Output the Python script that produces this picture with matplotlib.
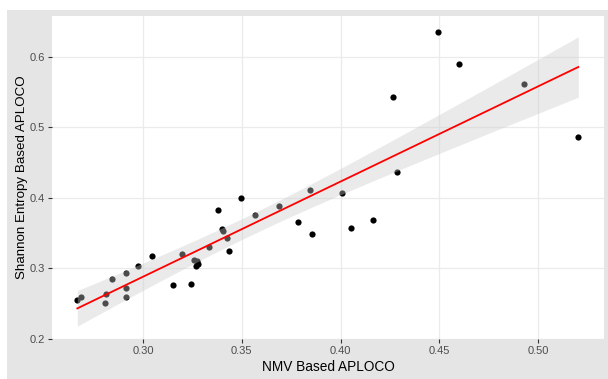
import numpy as np
import matplotlib
matplotlib.use("Agg")
import matplotlib.pyplot as plt
from matplotlib.patches import Rectangle

plt.rcParams["font.family"] = ["Liberation Sans", "DejaVu Sans"]

# values
nmv = [0.2668, 0.2688, 0.2808, 0.2814, 0.2845, 0.2912, 0.2915, 0.2915,
       0.2976, 0.3046, 0.3152, 0.3199, 0.3244, 0.3258, 0.3273, 0.3268,
       0.3280, 0.3334, 0.3380, 0.3398, 0.3406, 0.3424, 0.3434, 0.3496,
       0.3568, 0.3690, 0.3786, 0.3847, 0.3857, 0.4006, 0.4053, 0.4166,
       0.4267, 0.4285, 0.4494, 0.4599, 0.4928, 0.5203]
shannon = [0.2548, 0.2595, 0.2510, 0.2634, 0.2842, 0.2719, 0.2595, 0.2928,
           0.3027, 0.3173, 0.2766, 0.3202, 0.2780, 0.3123, 0.3102, 0.3031,
           0.3060, 0.3305, 0.3822, 0.3557, 0.3528, 0.3429, 0.3244, 0.3990,
           0.3760, 0.3884, 0.3652, 0.4108, 0.3482, 0.4071, 0.3575, 0.3689,
           0.5432, 0.4362, 0.6355, 0.5901, 0.5621, 0.4868]

x_ticks = [0.30, 0.35, 0.40, 0.45, 0.50]
y_ticks = [0.2, 0.3, 0.4, 0.5, 0.6]

x = np.array(nmv)
y = np.array(shannon)

# linear fit with 95% confidence band (like geom_smooth(method="lm"))
n = len(x)
slope, intercept = np.polyfit(x, y, 1)
resid = y - (slope * x + intercept)
s = np.sqrt(np.sum(resid ** 2) / (n - 2))
t_val = 2.028
xs = np.linspace(x.min(), x.max(), 80)
fit = slope * xs + intercept
se = s * np.sqrt(1 / n + (xs - x.mean()) ** 2 / np.sum((x - x.mean()) ** 2))

fig = plt.figure(figsize=(6.08, 3.79), dpi=100, facecolor="white")
fig.patches.append(Rectangle((7 / 608, 0), 1, 1 - 10 / 379,
                             transform=fig.transFigure,
                             facecolor="#e5e5e5", edgecolor="none",
                             zorder=-10))

ax = fig.add_axes([52 / 608, 1 - 339 / 379, 552 / 608, 323 / 379])
ax.set_facecolor("white")

ax.scatter(x, y, s=20, color="black", zorder=2, linewidths=0)
ax.fill_between(xs, fit - t_val * se, fit + t_val * se,
                color="#c9c9c9", alpha=0.38, linewidth=0, zorder=3)
ax.plot(xs, fit, color="red", lw=1.3, zorder=4)

ax.set_xlim(0.254, 0.5333)
ax.set_ylim(0.1996, 0.658)
ax.set_xticks(x_ticks)
ax.set_xticklabels(["0.30", "0.35", "0.40", "0.45", "0.50"])
ax.set_yticks(y_ticks)
ax.set_yticklabels(["0.2", "0.3", "0.4", "0.5", "0.6"])

ax.grid(True, color="#ebebeb", lw=0.9, zorder=0)
ax.set_axisbelow(True)
for sp in ax.spines.values():
    sp.set_visible(False)

ax.tick_params(axis="both", length=3, width=0.8, color="#333333",
               labelcolor="#4d4d4d", labelsize=8, pad=2)

ax.set_xlabel("NMV Based APLOCO", fontsize=9.8, color="black", labelpad=3)
ax.set_ylabel("Shannon Entropy Based APLOCO", fontsize=9.6, color="black",
              labelpad=1)

fig.savefig("out.png", dpi=100, facecolor=fig.get_facecolor())
